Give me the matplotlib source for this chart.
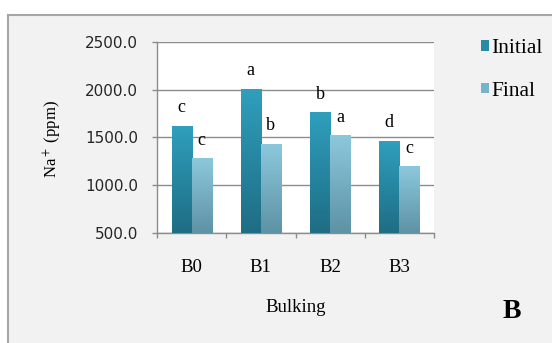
import numpy as np
import matplotlib
matplotlib.use("Agg")
import matplotlib.pyplot as plt
from matplotlib.colors import LinearSegmentedColormap
from matplotlib.patches import Rectangle
from matplotlib.lines import Line2D

categorias = ["B0", "B1", "B2", "B3"]
inicial = [1620, 2005, 1760, 1460]
final = [1280, 1430, 1520, 1195]
letras_inicial = ["c", "a", "b", "d"]
letras_final = ["c", "b", "a", "c"]
yticks = [500, 1000, 1500, 2000, 2500]

serif = ["Liberation Serif", "DejaVu Serif"]
plt.rcParams["mathtext.fontset"] = "stix"

fig = plt.figure(figsize=(5.52, 3.43), dpi=100)
fig.patch.set_facecolor("white")

# panel gris de fondo con borde arriba e izquierda
fig.patches.append(Rectangle((8 / 552, 0), 1, 1 - 15 / 343, transform=fig.transFigure,
                             facecolor="#f2f2f2", edgecolor="none", zorder=-10))
fig.lines.append(Line2D([8 / 552, 8 / 552], [0, 1 - 15 / 343], transform=fig.transFigure,
                        color="#a6a6a6", lw=1.5, zorder=-5))
fig.lines.append(Line2D([8 / 552, 1], [1 - 15 / 343, 1 - 15 / 343], transform=fig.transFigure,
                        color="#a6a6a6", lw=1.5, zorder=-5))

ax = fig.add_axes([157 / 552, 1 - 233 / 343, 277 / 552, 191 / 343])
ax.set_facecolor("white")

x = np.arange(len(categorias))
ancho = 0.29
b1 = ax.bar(x - ancho / 2, inicial, ancho, bottom=0, color="#2a8aa6", label="Initial", zorder=2)
b2 = ax.bar(x + ancho / 2, final, ancho, bottom=0, color="#78b4c9", label="Final", zorder=2)

# degradado dentro de cada barra
cmap_i = LinearSegmentedColormap.from_list("ini", ["#1e6d84", "#2f9fbd"])
cmap_f = LinearSegmentedColormap.from_list("fin", ["#5e92a5", "#8cc8dc"])
grad = np.linspace(0, 1, 256).reshape(-1, 1)
for barras, cmap in [(b1, cmap_i), (b2, cmap_f)]:
    for p in barras:
        x0 = p.get_x()
        x1 = x0 + p.get_width()
        ax.imshow(grad, extent=(x0, x1, 500, p.get_height()), origin="lower",
                  aspect="auto", cmap=cmap, zorder=3)
ax.set_xlim(-0.5, len(categorias) - 0.5)
ax.set_ylim(500, 2500)

for barras, letras in [(b1, letras_inicial), (b2, letras_final)]:
    for p, l in zip(barras, letras):
        ax.annotate(l, (p.get_x() + p.get_width() / 2, p.get_height()),
                    xytext=(0, 10), textcoords="offset points", ha="center", va="baseline",
                    fontsize=13, family=serif, color="black")

ax.set_yticks(yticks)
ax.set_yticklabels([f"{v:.1f}" for v in yticks])
ax.yaxis.grid(True, color="#8c8c8c", lw=1)
ax.set_axisbelow(True)
ax.tick_params(axis="y", length=3.6, width=1, color="#8c8c8c", pad=10,
               labelsize=11, labelcolor="#262626")

ax.set_xticks(x)
ax.set_xticklabels(categorias, family=serif, fontsize=13.5)
ax.set_xticks(np.arange(-0.5, len(categorias), 1), minor=True)
ax.tick_params(axis="x", which="major", length=0, pad=19)
ax.tick_params(axis="x", which="minor", length=3.6, width=1, color="#8c8c8c")

for s in ["top", "right"]:
    ax.spines[s].set_visible(False)
for s in ["left", "bottom"]:
    ax.spines[s].set_color("#8c8c8c")
    ax.spines[s].set_linewidth(1)

fig.text(53 / 552, 1 - 139 / 343, "Na$^+$ (ppm)", rotation=90, ha="center", va="center",
         fontsize=12, family=serif)
fig.text(296 / 552, 1 - 308 / 343, "Bulking", ha="center", va="center", fontsize=13.5, family=serif)
fig.text(512 / 552, 1 - 311 / 343, "B", ha="center", va="center", fontsize=20,
         fontweight="bold", family=serif)

fig.legend(handles=[b1, b2], loc="upper left", bbox_to_anchor=(481 / 552, 1 - 39 / 343),
           frameon=False, prop={"family": serif, "size": 15.5}, handlelength=0.38,
           handleheight=0.38, handletextpad=0.1, labelspacing=1.1, borderpad=0,
           borderaxespad=0)

fig.savefig("out.png", dpi=100, facecolor=fig.get_facecolor())
